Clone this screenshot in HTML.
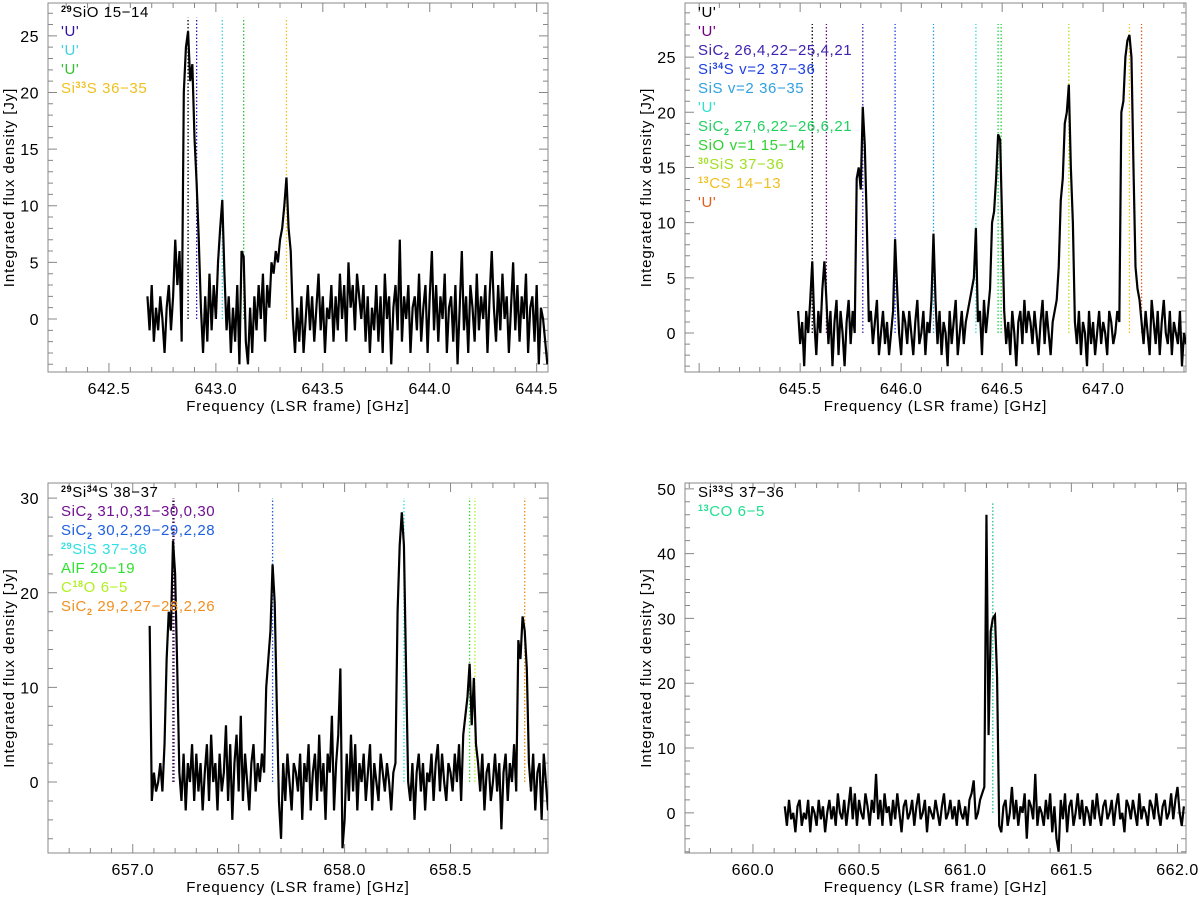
<!DOCTYPE html>
<html><head><meta charset="utf-8"><style>
html,body{margin:0;padding:0;background:#fff;}
svg{display:block;font-family:"Liberation Sans",sans-serif;}
</style></head><body>
<svg id="fig" width="1200" height="897" viewBox="0 0 1200 897" xmlns="http://www.w3.org/2000/svg"></svg>
<script>
// ---- data ----
const p1Start = 642.68, p1Step = 0.01;
const p1Flux = [2,-1,3,-2,1,-1,2,0,-3,1,3,-1,2, 7,3,6,-2,20,24, 25.4,21,22.5,16,12,7,1,-3, 2,-2,4,-1,3,0,5, 8,10.5,4,-1,2,-3,1,-2,3,-4, 6,5.5,-2,-4,1,-3,2,-1,3,0,4,-2,3,1,5, 4,6,5,7,8,10,12.5,8,6,0,-3,
1,-2,2,-3,0,3,-1,2,-2,1,4,-1,2,-3,1,0,3,-2,2,-1,
4,0,3,-2,5,1,3,-1,4,2,0,3,-2,2,-3,1,-1,3,-2,2,
-3,4,0,2,-4,1,3,-1,7,-2,2,0,3,-3,1,2,-1,4,-2,1,
3,-3,2,6,-1,3,-2,2,0,4,-3,1,2,-2,3,-4,1,6,-1,2,
-3,3,1,-2,4,-1,2,0,3,-3,2,6,1,-2,3,-1,4,0,2,-3,
1,5,-1,3,-2,2,0,4,-3,1,2,-2,3,-4,1,0,-2,-4];
const p1LineFreqs = [642.87, 642.91, 643.03, 643.13, 643.33];
const p1LineColors = ["#000000","#3010a0","#40d0e0","#30c030","#f0c020"];
const p1Labels = [["","29","SiO 15\u221214","#000"],["","","'U'","#3010a0"],["","","'U'","#40d0e0"],["","","'U'","#30c030"],["Si","33","S 36\u221235","#f0c020"]];

const p2Start = 645.49, p2Step = 0.01;
const p2Flux = [2,-1,1,-3,2,0,3, 6.5,1,-2,2,0,4,6.5,3, -1,2,-3,1,3,-2,2,0,-3,1,3,-1,2,0, 14,15,13,20.5,17,10,1, 2,-1,1,3,-2,0,2,-1,1,-2,0, 2,8.5,4, 0,-2,2,1,-1,2,0,-2,1,3,-1,0,2,-2,1,0, 3,9,3, -1,2,-2,1,0,-3,2,-1,1,3,-2,0,2,-1,1,2,3, 4,5,9.5,1, 2,-2,3,0,2,4, 10,11,14,18,17.5,10,2, -1,1,-2,2,0,-3,1,2,-1,3,0,2,1,-1,2,0,-2,1,3,-1,2,0,-2,1,2,3, 6,12,14,19,20,22.5,15,10,1, -1,2,-2,1,0,-3,2,-1,1,-2,0,2,-1,1,0,-2,2,1,-1,0,2,1, 20,21,25,26.5,27,25,15,6,4,3, 1,-1,2,0,-2,3,1,-1,2,-2,1,3,0,-1,2,-2,1,0,-1,2,-3,0,-1];
const p2LineFreqs = [645.56, 645.63, 645.81, 645.97, 646.16, 646.37, 646.48, 646.495, 646.83, 647.13, 647.19];
const p2LineColors = ["#000000","#700080","#4020b0","#2040e0","#30a0e0","#30e0d0","#20d060","#30d030","#b0e020","#f0c020","#e06020"];
const p2Labels = [["","","'U'","#000"],["","","'U'","#700080"],["SiC","","","#4020b0","2"," 26,4,22\u221225,4,21"],["Si","34","S v=2 37\u221236","#2040e0"],["","","SiS v=2 36\u221235","#30a0e0"],["","","'U'","#30e0d0"],["SiC","","","#20d060","2"," 27,6,22\u221226,6,21"],["","","SiO v=1 15\u221214","#30d030"],["","30","SiS 37\u221236","#a0e020"],["","13","CS 14\u221213","#f0c020"],["","","'U'","#e06020"]];

const p3Start = 657.08, p3Step = 0.01;
const p3Flux = [16.5,-2,1,-1,0,2,-1, 4,13,18,16,25.5,22,12,1, -2,3,-3,2,0,4,-2,3,-1,2,-3,1,4,-2,5,0,2,-3,3,-1,1,6,-2,4,-4,2,5,-1,7,-2,3,0,-3,2,4,-1,2,0,3,1, 10,13,16,23,19,8,-2,-6, 2,-2,3,0,-3,2,1,-1,3,-4,2,0,4,-3,1,3,-2,5,-1,2,-4,3,1,7,-3,2, 5,12,-7,-4, 3,-2,5,-1,4,-3,2,0,3,-2,1,4,-3,2,0,-2,3,1,-1,2,0,-3,1,2, 18,25,28.5,25,12,0, -2,2,-4,1,3,-1,2,-3,1,0,3,-2,2,4,-1,3,0,-2,2,1,-1,3,0,4,-2,5, 7,9,12.5,6,11,4, 2,-1,3,-3,1,2,-2,0,3,-1,2,-5,1,3,-2,2,0,4,-1, 15,13,17.5,16,12,2, -1,3,-3,1,2,-4,3,0,-3];
const p3LineFreqs = [657.19, 657.195, 657.66, 658.28, 658.59, 658.615, 658.85];
const p3LineColors = ["#000000","#701090","#2060e0","#30e0e0","#30e030","#b0f020","#f09020"];
const p3Labels = [["","29","Si","#000","","","34","S 38\u221237"],["SiC","","","#701090","2"," 31,0,31\u221230,0,30"],["SiC","","","#2060e0","2"," 30,2,29\u221229,2,28"],["","29","SiS 37\u221236","#30e0e0"],["","","AlF 20\u221219","#30e030"],["C","18","O 6\u22125","#b0f020"],["SiC","","","#f09020","2"," 29,2,27\u221228,2,26"]];

const p4Start = 660.15, p4Step = 0.01;
const p4Flux = [1,-2,2,-1,0,-3,1,2,-2,0,-1,2,-3,1,0,-2,2,-1,1,-3,0,2,-1,1,-2,3,0,-1,2,-2,1,4,-1,3,-2,2,0,-1,3,1,-2,2,0,6,-1,2,-2,3,0,1,-2,2,-1,3,0,-3,1,2,-1,0,2,-2,1,3,-1,0,2,-3,1,0,-1,2,0,-2,1,3,-1,0,2,-1,1,-2,2,0,-1,1,-2,2,3,5,-1,0,2,3,
4,46,12,28,30,30.5,21,-2,
-3,1,2,-2,0,4,-1,2,-2,1,0,3,-4,2,1,-1,6,-2,1,0,-2,2,-1,3,-3,1,-4,-6,2,-1,3,-3,1,2,-2,0,3,-1,2,-2,1,0,-2,2,-1,3,0,-2,1,2,-1,0,2,-2,1,3,-1,0,-3,2,1,-1,2,0,-2,3,-1,1,0,-2,2,1,-1,3,0,-2,1,2,-1,0,3,-1,2,4,0,-2,1];
const p4LineFreqs = [661.13];
const p4LineColors = ["#20c080"];
const p4Labels = [["Si","33","S 37\u221236","#000"],["","13","CO 6\u22125","#20e090"]];

const xTicks1 = ["642.5","643.0","643.5","644.0","644.5"];
const xTicks2 = ["645.5","646.0","646.5","647.0"];
const xTicks3 = ["657.0","657.5","658.0","658.5"];
const xTicks4 = ["660.0","660.5","661.0","661.5","662.0"];
const yTicks1 = ["0","5","10","15","20","25"];
const yTicks2 = ["0","5","10","15","20","25"];
const yTicks3 = ["0","10","20","30"];
const yTicks4 = ["0","10","20","30","40","50"];

// ---- drawing ----
const NS = "http://www.w3.org/2000/svg";
const svg = document.getElementById("fig");
function mk(tag, attrs, parent){ const e=document.createElementNS(NS,tag); for(const k in attrs) e.setAttribute(k,attrs[k]); (parent||svg).appendChild(e); return e; }

function panel(cfg){
  const g = mk("g",{});
  
  
  const L=cfg.box[0],T=cfg.box[1],R=cfg.box[2],B=cfg.box[3];
  const sx = v => L + (v-cfg.xr[0])/(cfg.xr[1]-cfg.xr[0])*(R-L);
  const sy = v => B - (v-cfg.yr[0])/(cfg.yr[1]-cfg.yr[0])*(B-T);
  const cid = cfg.name+"-clip";
  const defs = mk("defs",{},g); const cp = mk("clipPath",{id:cid},defs); mk("rect",{x:L,y:T,width:R-L,height:B-T},cp);
  const box = mk("rect",{x:L,y:T,width:R-L,height:B-T,fill:"none",stroke:"#888","stroke-width":1},g);
  
  
  let d="";
  const x0=Math.ceil(cfg.xr[0]*10)/10;
  for(let v=x0; v<=cfg.xr[1]+1e-9; v+=0.1){
    const major = Math.abs(v*2-Math.round(v*2))<1e-6;
    const len = major?9:5, x=sx(v);
    d+=`M${x},${B}v${-len}M${x},${T}v${len}`;
  }
  const ys = cfg.yMinor;
  for(let v=Math.ceil(cfg.yr[0]/ys)*ys; v<=cfg.yr[1]+1e-9; v+=ys){
    const major = Math.abs(v/cfg.yMajor-Math.round(v/cfg.yMajor))<1e-6;
    const len = major?9:5, y=sy(v);
    d+=`M${L},${y}h${len}M${R},${y}h${-len}`;
  }
  const tk = mk("path",{d:d,stroke:"#888","stroke-width":1,fill:"none"},g);
  
  
  cfg.xt.forEach(s=>{
    const t=mk("text",{x:sx(parseFloat(s)),y:B+22,"text-anchor":"middle","font-size":16,fill:"#000","letter-spacing":"0.5"},g);
    t.textContent=s;
    
    
  });
  cfg.yt.forEach(s=>{
    const t=mk("text",{x:L-9,y:sy(parseFloat(s))+6,"text-anchor":"end","font-size":16,fill:"#000","letter-spacing":"0.5"},g);
    t.textContent=s;
    
    
  });
  const xt=mk("text",{x:(L+R)/2,y:B+39,"text-anchor":"middle","font-size":15,fill:"#000","letter-spacing":"0.9"},g);
  xt.textContent="Frequency (LSR frame) [GHz]";
  
  
  const cy=(T+B)/2, tx=cfg.ytx;
  const yt=mk("text",{x:tx,y:cy,"text-anchor":"middle","font-size":15,fill:"#000","letter-spacing":"0.9",transform:`rotate(-90 ${tx} ${cy})`,"xml:space":"preserve"},g);
  yt.textContent="Integrated flux  density [Jy]";
  
  
  cfg.lines.forEach((f,i)=>{
    const ln=mk("line",{x1:sx(f),x2:sx(f),y1:sy(0),y2:sy(cfg.lineTop),stroke:cfg.lineColors[i],"stroke-width":1.3,"stroke-dasharray":"1.5,2","clip-path":`url(#${cid})`},g);
    
    
  });
  let pd="";
  cfg.flux.forEach((v,i)=>{ const f=cfg.start+i*cfg.step; pd+=(i?"L":"M")+sx(f).toFixed(2)+","+sy(v).toFixed(2); });
  const sp=mk("path",{d:pd,stroke:"#000","stroke-width":2.2,fill:"none","stroke-linejoin":"miter","clip-path":`url(#${cid})`},g);
  
  
  cfg.labels.forEach((lb,i)=>{
    const t=mk("text",{x:L+13,y:T+14+i*19,"font-size":15,fill:lb[3],"letter-spacing":"0.6"},g);
    
    
    const add=(txt,cls)=>{ if(!txt) return; const s=mk("tspan",{},t); s.textContent=txt;
      if(cls==="sup"){ s.setAttribute("font-size","9"); s.setAttribute("dy","-5"); s.setAttribute("font-weight","bold"); }
      if(cls==="sub"){ s.setAttribute("font-size","9"); s.setAttribute("dy","4"); s.setAttribute("font-weight","bold"); }
      if(cls==="back5"){ s.setAttribute("dy","5"); }
      if(cls==="back4"){ s.setAttribute("dy","-4"); }
    };
    add(lb[0]); add(lb[1],"sup"); add(lb[2], lb[1]?"back5":"");
    if(lb[4]){ add(lb[4],"sub"); add(lb[5],"back4"); }
    if(lb[6]){ add(lb[6],"sup"); add(lb[7],"back5"); }
  });
}

panel({name:"panel-29sio",box:[48,3,548,372],xr:[642.215,644.553],yr:[-4.68,27.9],yMajor:5,yMinor:1,
  xt:xTicks1,yt:yTicks1,ytx:14,flux:p1Flux,start:p1Start,step:p1Step,lines:p1LineFreqs,lineColors:p1LineColors,lineTop:26.6,labels:p1Labels});
panel({name:"panel-sic2",box:[685,3,1186,372],xr:[644.93,647.41],yr:[-3.53,29.9],yMajor:5,yMinor:1,
  xt:xTicks2,yt:yTicks2,ytx:651,flux:p2Flux,start:p2Start,step:p2Step,lines:p2LineFreqs,lineColors:p2LineColors,lineTop:28,labels:p2Labels});
panel({name:"panel-29si34s",box:[48,483,548,853],xr:[656.60,658.96],yr:[-7.5,31.6],yMajor:10,yMinor:2,
  xt:xTicks3,yt:yTicks3,ytx:14,flux:p3Flux,start:p3Start,step:p3Step,lines:p3LineFreqs,lineColors:p3LineColors,lineTop:30,labels:p3Labels});
panel({name:"panel-13co",box:[685,483,1186,853],xr:[659.68,662.04],yr:[-6.2,50.9],yMajor:10,yMinor:2,
  xt:xTicks4,yt:yTicks4,ytx:651,flux:p4Flux,start:p4Start,step:p4Step,lines:p4LineFreqs,lineColors:p4LineColors,lineTop:48,labels:p4Labels});
</script>
</body></html>
